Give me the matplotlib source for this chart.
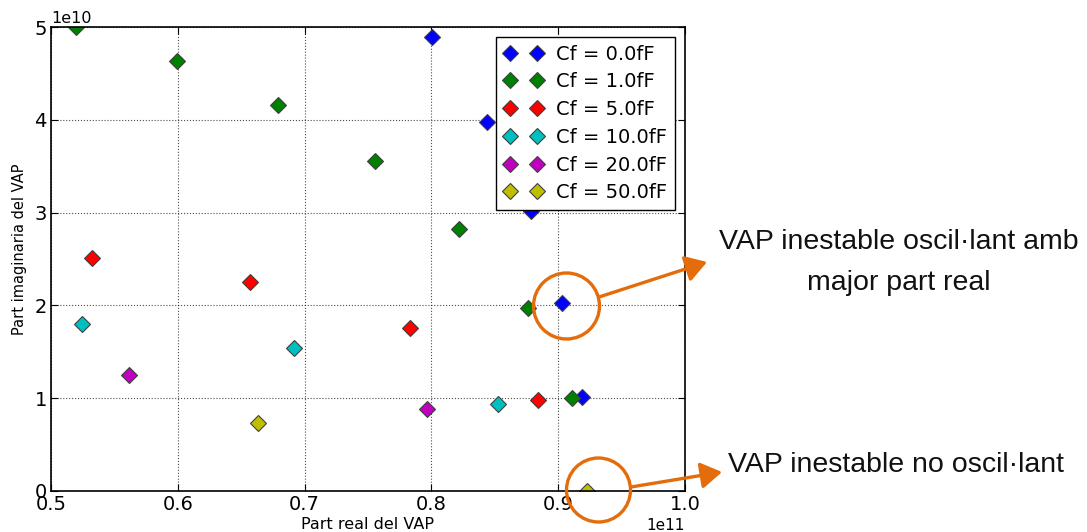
import matplotlib
matplotlib.use("Agg")
import matplotlib.pyplot as plt
from matplotlib.patches import Ellipse, FancyArrowPatch

labels = ["Cf = 0.0fF", "Cf = 1.0fF", "Cf = 5.0fF", "Cf = 10.0fF", "Cf = 20.0fF", "Cf = 50.0fF"]
colors = [(0, 0, 1), (0, 0.5, 0), (1, 0, 0), (0, 0.75, 0.75), (0.75, 0, 0.75), (0.75, 0.75, 0)]

re_cf0 = [0.8005e11, 0.8438e11, 0.8785e11, 0.903e11, 0.9188e11]
im_cf0 = [4.89e10, 3.98e10, 3.02e10, 2.03e10, 1.01e10]
re_cf1 = [0.5197e11, 0.5994e11, 0.679e11, 0.7555e11, 0.822e11, 0.876e11, 0.911e11]
im_cf1 = [5.0e10, 4.63e10, 4.16e10, 3.556e10, 2.82e10, 1.97e10, 1.00e10]
re_cf5 = [0.532e11, 0.657e11, 0.783e11, 0.884e11]
im_cf5 = [2.51e10, 2.25e10, 1.76e10, 0.98e10]
re_cf10 = [0.5245e11, 0.6916e11, 0.8525e11]
im_cf10 = [1.80e10, 1.54e10, 0.94e10]
re_cf20 = [0.5615e11, 0.7965e11]
im_cf20 = [1.25e10, 0.88e10]
re_cf50 = [0.663e11, 0.9227e11]
im_cf50 = [0.73e10, 0.0]

series = [(re_cf0, im_cf0), (re_cf1, im_cf1), (re_cf5, im_cf5),
          (re_cf10, im_cf10), (re_cf20, im_cf20), (re_cf50, im_cf50)]

W, H = 1087, 532
fig = plt.figure(figsize=(W / 100, H / 100), dpi=100)
ax = fig.add_axes([51 / W, 1 - 491 / H, (685 - 51) / W, (491 - 27) / H])

for (xs, ys), c, lab in zip(series, colors, labels):
    ax.plot(xs, ys, linestyle='none', marker='D', markersize=8, color=c,
            markeredgecolor=(0.25, 0.25, 0.25), markeredgewidth=0.8, label=lab)

ax.set_xlim(0.5e11, 1.0e11)
ax.set_ylim(0, 5e10)
ax.set_xticks([0.5e11, 0.6e11, 0.7e11, 0.8e11, 0.9e11, 1.0e11])
ax.set_yticks([0, 1e10, 2e10, 3e10, 4e10, 5e10])
ax.grid(True, linestyle=':', color='k', linewidth=0.8, alpha=0.7)
ax.tick_params(direction='in', top=True, right=True, labelsize=14, length=5, pad=3)
ax.xaxis.get_offset_text().set_fontsize(11)
ax.yaxis.get_offset_text().set_fontsize(11.5)
for s in ax.spines.values():
    s.set_linewidth(1.2)
ax.set_xlabel("Part real del VAP", fontsize=11.5)
ax.set_ylabel("Part imaginaria del VAP", fontsize=10.5)
ax.xaxis.set_label_coords(0.5, -0.055)
ax.yaxis.set_label_coords(-0.038, 0.52)

leg = ax.legend(loc='upper right', numpoints=2, fontsize=14, fancybox=False,
                framealpha=1, edgecolor='k', handlelength=2.0, handletextpad=0.7,
                labelspacing=0.45, borderpad=0.4)
leg.get_frame().set_linewidth(1.0)

orange = '#E46C0A'

def fx(px):
    return px / W

def fy(py):
    return 1 - py / H

for cx, cy, r in [(566.5, 306, 33), (598.5, 490, 32)]:
    fig.add_artist(Ellipse((fx(cx), fy(cy)), 2 * r / W, 2 * r / H, fill=False,
                           edgecolor=orange, linewidth=2.4, transform=fig.transFigure,
                           clip_on=False))

for (x0, y0), (x1, y1) in [((599, 297), (707, 262)), ((631, 487), (722, 472))]:
    fig.add_artist(FancyArrowPatch((fx(x0), fy(y0)), (fx(x1), fy(y1)),
                                   transform=fig.transFigure, arrowstyle='-|>,head_length=8,head_width=5',
                                   mutation_scale=1.6, color=orange, linewidth=2.4,
                                   shrinkA=0, shrinkB=0, clip_on=False))

fig.text(fx(899), fy(242), "VAP inestable oscil·lant amb", fontsize=20.5,
         family='Liberation Sans', ha='center', va='center', color='#111111')
fig.text(fx(899), fy(283), "major part real", fontsize=20.5,
         family='Liberation Sans', ha='center', va='center', color='#111111')
fig.text(fx(896), fy(465), "VAP inestable no oscil·lant", fontsize=20.5,
         family='Liberation Sans', ha='center', va='center', color='#111111')

fig.savefig("out.png", dpi=100)
